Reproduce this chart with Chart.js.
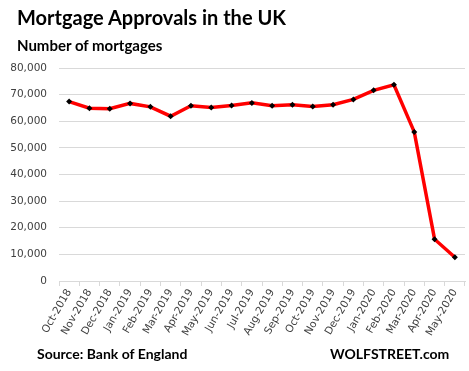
<!DOCTYPE html>
<html>
<head>
<meta charset="utf-8">
<script src="https://cdn.jsdelivr.net/npm/chart.js@4"></script>
<style>
  body { margin: 0; background: #fff; }
  #wrap { position: relative; width: 469px; height: 371px; overflow: hidden; }
  #chart { position: absolute; left: 0; top: 0; }
  .txt { position: absolute; font-family: Lato, sans-serif; font-weight: bold; color: #000; white-space: nowrap; }
  #title { left: 17px; top: 5px; font-size: 20px; }
  #subtitle { left: 17px; top: 36px; font-size: 15px; }
  #source { left: 37px; top: 345px; font-size: 14px; }
  #brand { left: 330px; top: 345px; font-size: 14px; }
</style>
</head>
<body>
<div id="wrap">
  <canvas id="chart" width="469" height="371"></canvas>
  <div class="txt" id="title">Mortgage Approvals in the UK</div>
  <div class="txt" id="subtitle">Number of mortgages</div>
  <div class="txt" id="source">Source: Bank of England</div>
  <div class="txt" id="brand">WOLFSTREET.com</div>
</div>
<script>
// --- DATA ---
const months = ['Oct-2018', 'Nov-2018', 'Dec-2018', 'Jan-2019', 'Feb-2019', 'Mar-2019', 'Apr-2019',
  'May-2019', 'Jun-2019', 'Jul-2019', 'Aug-2019', 'Sep-2019', 'Oct-2019', 'Nov-2019', 'Dec-2019',
  'Jan-2020', 'Feb-2020', 'Mar-2020', 'Apr-2020', 'May-2020'];
const approvals = [67400, 64900, 64700, 66700, 65400, 61900, 65800, 65200, 65900, 66900, 65800,
  66200, 65500, 66200, 68200, 71600, 73700, 56000, 15700, 8900];
const yTicks = [0, 10000, 20000, 30000, 40000, 50000, 60000, 70000, 80000];

const gridColor = '#d9d9d9';
const tickColor = '#404040';

new Chart(document.getElementById('chart'), {
  type: 'line',
  data: {
    labels: months,
    datasets: [{
      data: approvals,
      borderColor: '#ff0000',
      borderWidth: 3.5,
      pointStyle: 'rectRot',
      pointRadius: 3,
      pointBackgroundColor: '#000',
      pointBorderColor: '#000',
      pointBorderWidth: 0,
      tension: 0
    }]
  },
  options: {
    responsive: false,
    animation: false,
    layout: { padding: { left: 0, top: 68, right: 3, bottom: 30 } },
    plugins: { legend: { display: false }, tooltip: { enabled: false } },
    scales: {
      x: {
        offset: true,
        grid: { offset: true, drawOnChartArea: false, drawTicks: true, tickLength: 5, color: gridColor },
        border: { color: gridColor },
        ticks: { color: tickColor, font: { family: 'DejaVu Sans', size: 10.5 }, minRotation: 60, maxRotation: 60, autoSkip: false, padding: 1 },
        afterFit: (s) => { s.height = 60; }
      },
      y: {
        min: 0, max: 80000,
        afterBuildTicks: (s) => { s.ticks = yTicks.map(v => ({ value: v })); },
        grid: { color: gridColor, drawTicks: false },
        border: { display: false },
        ticks: { color: tickColor, padding: 12, font: { family: 'DejaVu Sans', size: 10.5 },
          callback: (v) => v.toLocaleString('en-US') },
        afterFit: (s) => { s.width = 59; }
      }
    }
  }
});
</script>
</body>
</html>
